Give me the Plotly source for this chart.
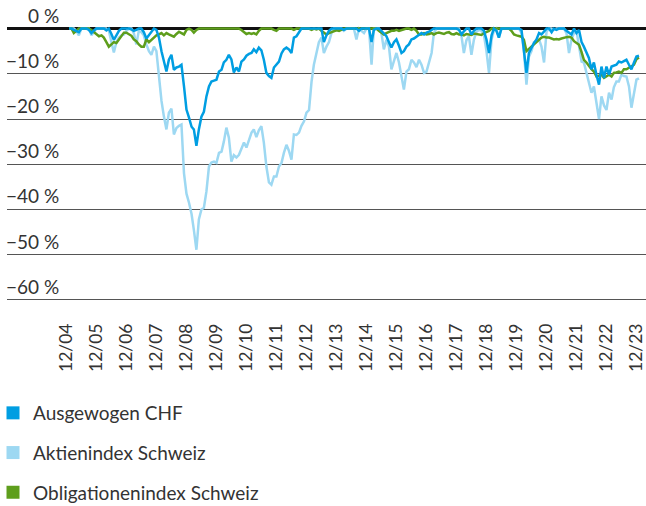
import pandas as pd
import plotly.graph_objects as go

# Monthly drawdowns (%) from Dec 2004 to Dec 2023
months = pd.date_range("2004-12-31", periods=229, freq="ME")
tick_labels = ["12/04", "12/05", "12/06", "12/07", "12/08", "12/09", "12/10",
               "12/11", "12/12", "12/13", "12/14", "12/15", "12/16", "12/17",
               "12/18", "12/19", "12/20", "12/21", "12/22", "12/23"]
y_ticks = [0, -10, -20, -30, -40, -50, -60]

ausgewogen_chf = [
    0,
    0, -0.3, -0.5, -0.8, 0, 0, 0, -0.3, -1.0, -0.4, 0, 0,                      # 2005
    0, 0, -0.4, 0, -1.2, -2.5, -1.5, -0.5, 0, 0, 0, 0,                         # 2006
    -0.2, -0.5, -0.3, 0, 0, -0.8, -2.2, -1.5, -0.6, 0, -0.3, -2.0,             # 2007
    -5.0, -7.3, -9.5, -6.9, -5.8, -9.1, -8.6, -8.4, -8.0, -12.8, -17.9, -19.7, # 2008
    -21.7, -22.3, -25.9, -22.3, -19.5, -18.4, -15.0, -12.8, -11.7, -11.5, -11.3, -9.5,  # 2009
    -9.1, -7.5, -6.9, -5.8, -6.8, -9.7, -8.6, -9.5, -7.3, -6.8, -6.0, -5.6,    # 2010
    -5.4, -4.6, -5.2, -4.2, -4.8, -6.9, -9.8, -10.5, -10.9, -8.6, -8.0, -7.3,  # 2011
    -5.5, -4.6, -4.2, -4.6, -5.4, -2.0, -1.7, -0.9, 0, 0, 0, 0,                # 2012
    0, 0, 0, 0, 0, -3.0, -1.5, -0.5, 0, 0, 0, 0,                               # 2013
    0, -0.3, 0, 0, 0, 0, 0, -0.5, 0, 0, 0, 0,                                  # 2014
    -3.0, -0.3, 0, 0, -0.5, -1.0, -1.7, -3.0, -4.2, -3.0, -2.4, -3.8,          # 2015
    -5.4, -5.0, -4.0, -3.5, -2.4, -2.2, -1.8, -1.2, -1.0, -1.3, -0.9, -0.7,    # 2016
    -0.3, 0, 0, 0, 0, 0, 0, 0, 0, 0, 0, -0.3,                                  # 2017
    -1.3, -0.6, 0, 0, -1.3, -0.5, 0, 0, 0, -0.5, -2.4, -5.4,                   # 2018
    -1.5, 0, -0.5, -2.0, 0, 0, 0, 0, 0, 0, 0, 0,                               # 2019
    -0.3, -4.6, -9.8, -5.4, -4.2, -3.2, -2.4, -1.0, -1.3, -0.5, 0, 0,          # 2020
    -0.8, 0, -0.3, 0, 0, 0, -0.5, -1.0, -1.3, 0, -1.0, -0.3,                   # 2021
    -3.0, -4.0, -5.4, -6.5, -9.0, -7.5, -10.2, -12.4, -8.4, -10.9, -8.4, -10.2,  # 2022
    -8.4, -8.2, -8.0, -7.3, -7.5, -7.2, -6.9, -8.0, -9.0, -7.5, -6.2, -6.0,    # 2023
]

aktienindex_schweiz = [
    0,
    0, 0, -0.5, -1.5, 0, 0, 0, 0, -1.5, -0.8, 0, 0,                            # 2005
    0, 0, 0, -0.5, -3.0, -5.3, -3.0, -2.0, -1.5, -1.3, -0.5, 0,                # 2006
    0, -1.0, -3.5, -0.5, -0.8, -1.5, -3.5, -5.0, -5.8, -4.0, -5.0, -11.3,      # 2007
    -16.0, -19.4, -22.3, -18.6, -17.7, -23.4, -22.0, -21.5, -21.2, -32.0, -36.5, -38.5,  # 2008
    -41.0, -44.5, -48.9, -42.2, -40.0, -39.6, -36.0, -30.5, -29.6, -29.4, -29.7, -27.5,  # 2009
    -27.2, -25.0, -21.9, -24.1, -29.4, -28.0, -28.5, -27.9, -26.5, -25.2, -26.3, -24.5,  # 2010
    -23.0, -22.3, -24.0, -22.5, -21.6, -25.2, -30.5, -34.0, -34.5, -32.7, -32.7, -30.5,  # 2011
    -29.7, -27.5, -25.7, -27.0, -29.0, -23.4, -23.5, -23.0, -21.5, -20.5, -18.6, -18.0,  # 2012
    -11.7, -8.0, -5.0, -3.0, -2.0, -5.4, -4.0, -3.0, -1.0, 0, 0, 0,            # 2013
    0, -0.5, 0, 0, 0, 0, -2.4, 0, -0.5, -1.0, 0, 0,                            # 2014
    -8.0, 0, 0, 0, -1.0, -4.6, -2.5, -4.0, -9.0, -7.0, -5.4, -7.5,             # 2015
    -11.0, -13.5, -9.5, -9.0, -6.9, -7.5, -8.5, -6.9, -8.0, -9.8, -9.5, -7.5,  # 2016
    -5.4, -1.0, 0, 0, 0, 0, 0, 0, 0, 0, 0, 0,                                  # 2017
    -1.8, -5.4, -2.6, -1.7, -5.8, -2.5, -0.7, -0.3, -0.5, -1.5, -5.0, -9.8,    # 2018
    -2.4, -0.5, 0, -2.0, 0, 0, 0, 0, 0, 0, 0, 0,                               # 2019
    -1.0, -5.0, -12.4, -6.2, -5.0, -3.0, -2.8, -2.4, -4.0, -7.5, -0.7, 0,      # 2020
    0, -0.3, 0, 0, 0, 0, -1.0, -5.4, -2.4, -1.0, -0.5, -4.0,                   # 2021
    -7.3, -7.5, -9.8, -12.0, -14.2, -12.8, -16.4, -20.0, -15.0, -17.0, -18.0, -14.2,  # 2022
    -15.7, -13.0, -11.7, -11.7, -10.2, -10.5, -10.6, -12.8, -17.5, -14.6, -11.3, -11.0,  # 2023
]

obligationenindex_schweiz = [
    0,
    0, -1.0, -0.5, 0, 0, 0, 0, 0, -0.3, -0.8, -1.3, -1.7,                      # 2005
    -1.5, -2.0, -3.0, -4.0, -3.5, -3.0, -3.2, -2.5, -1.8, -0.9, -0.9, -1.3,    # 2006
    -1.6, -2.4, -2.8, -3.5, -4.0, -4.0, -2.4, -3.0, -2.5, -1.8, -1.5, -1.3,    # 2007
    -1.0, -1.5, -1.0, -1.3, -1.5, -1.8, -1.2, -0.7, -1.0, -1.3, -0.3, 0,       # 2008
    -0.3, -0.9, -0.3, 0, 0, 0, 0, 0, 0, 0, 0, 0,                               # 2009
    0, 0, 0, 0, 0, 0, 0, 0, -0.3, -0.8, -1.2, -1.0,                            # 2010
    -1.2, -1.0, -1.3, -0.5, 0, 0, 0, 0, 0, -0.3, -0.5, 0,                      # 2011
    0, 0, 0, 0, 0, -0.3, 0, 0, 0, 0, 0, 0,                                     # 2012
    -0.3, 0, -0.2, 0, -0.5, -1.0, -1.3, -1.0, -0.8, -0.6, -0.4, -0.5,          # 2013
    -0.3, 0, 0, 0, 0, 0, 0, 0, 0, 0, 0, 0,                                     # 2014
    0, 0, 0, -0.5, -1.0, -1.3, -1.0, -0.8, -0.5, -0.5, -0.3, -0.5,             # 2015
    -0.3, -0.2, 0, 0, -0.3, 0, -0.5, -1.3, -1.3, -1.0, -1.3, -1.2,             # 2016
    -1.0, -1.3, -1.0, -0.9, -1.0, -1.2, -0.9, -0.8, -1.2, -1.3, -1.0, -1.3,    # 2017
    -1.3, -1.5, -1.2, -1.3, -1.4, -1.1, -1.2, -1.3, -1.4, -1.0, -0.7, -0.5,    # 2018
    0, 0, 0, 0, 0, 0, 0, 0, -0.5, -1.3, -1.5, -1.7,                            # 2019
    -1.8, -2.5, -5.0, -4.5, -4.0, -3.5, -2.9, -2.4, -2.0, -1.8, -2.0, -2.0,    # 2020
    -2.2, -2.4, -2.3, -2.4, -2.2, -2.0, -1.9, -1.8, -2.0, -2.8, -3.3, -3.6,    # 2021
    -5.2, -6.9, -7.5, -8.3, -9.0, -9.5, -10.6, -10.4, -10.2, -10.9, -10.5, -10.2,  # 2022
    -10.6, -9.8, -9.7, -9.5, -9.8, -9.0, -9.0, -8.6, -8.4, -8.0, -6.8, -6.4,   # 2023
]

series_names = ["Ausgewogen CHF", "Aktienindex Schweiz", "Obligationenindex Schweiz"]
series_values = [ausgewogen_chf, aktienindex_schweiz, obligationenindex_schweiz]
series_colors = ["#009ee2", "#9dd8f2", "#5e9e1c"]

for vals in series_values:
    assert len(vals) == len(months)

W, H = 646, 506
LEFT, RIGHT, TOP, BOTTOM = 7, 0, 15, 197
FONT = "Lato"
TEXT = "#333333"

fig = go.Figure()

# lines: equity index underneath, then bonds, then the balanced mandate on top
for i in [1, 2, 0]:
    fig.add_trace(go.Scatter(
        x=months, y=series_values[i], mode="lines",
        line=dict(color=series_colors[i], width=2.5),
        showlegend=False, hoverinfo="skip",
    ))

# legend entries drawn as filled squares
for i, name in enumerate(series_names):
    fig.add_trace(go.Scatter(
        x=[None], y=[None], mode="markers", name=name,
        marker=dict(symbol="square", size=13, color=series_colors[i]),
        legendgroup=f"g{i}", showlegend=True,
    ))

# x range: first month at px 69, last month at px 639
first_px, last_px = 69, 639
days_per_px = (months[-1] - months[0]) / (last_px - first_px)
x_start = (months[0] - days_per_px * (first_px - LEFT)).strftime("%Y-%m-%d %H:%M:%S")
x_end = (months[-1] + days_per_px * (W - RIGHT - last_px)).strftime("%Y-%m-%d %H:%M:%S")

plot_w = W - LEFT - RIGHT

def pct_label(v):
    s = f"{abs(v)} %"
    return ("\u2212" + s) if v < 0 else s

annotations = [
    dict(
        x=(61 - LEFT) / plot_w, xref="paper", xanchor="right",
        y=v, yref="y", yanchor="bottom", yshift=0,
        text=pct_label(v), showarrow=False,
        font=dict(family=FONT, size=19, color=TEXT),
    )
    for v in y_ticks
]

fig.update_layout(
    width=W, height=H,
    margin=dict(l=LEFT, r=RIGHT, t=TOP, b=BOTTOM, autoexpand=False),
    paper_bgcolor="white", plot_bgcolor="white",
    font=dict(family=FONT, color=TEXT),
    annotations=annotations,
    legend=dict(
        xref="paper", yref="container",
        x=(-7 - LEFT) / plot_w, y=1 - 394 / H, xanchor="left", yanchor="top",
        font=dict(family=FONT, size=19, color=TEXT),
        traceorder="grouped", tracegroupgap=12,
        bgcolor="rgba(0,0,0,0)",
    ),
    xaxis=dict(
        range=[x_start, x_end],
        tickvals=months[::12], ticktext=tick_labels,
        tickangle=-90, ticks="", showgrid=False, showline=False, zeroline=False,
        tickfont=dict(family=FONT, size=17.5, color=TEXT),
        ticklabelstandoff=10, ticklabelshift=-3, ticklabeloverflow="allow",
    ),
    yaxis=dict(
        range=[-62, 3], tickvals=y_ticks, showticklabels=False, ticks="",
        showgrid=True, gridcolor="#555555", gridwidth=1.3,
        zeroline=True, zerolinecolor="#111111", zerolinewidth=2.5,
        showline=False,
    ),
)

fig.write_html("out.html")
